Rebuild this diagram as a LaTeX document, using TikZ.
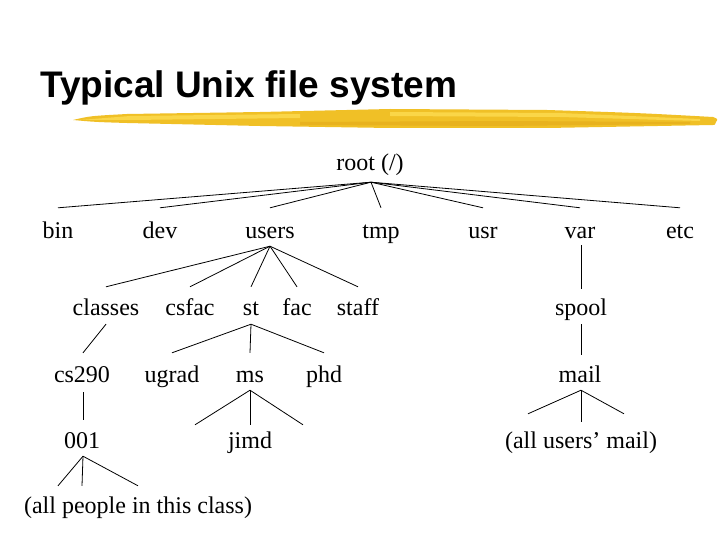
\documentclass[tikz,border=0pt]{standalone}
\usepackage{fontspec}
\setmainfont{Liberation Serif}
\newfontfamily\titlefont{Liberation Sans}
\usetikzlibrary{calc}
\definecolor{brushA}{RGB}{240,192,38}
\definecolor{brushB}{RGB}{250,214,72}
\definecolor{brushC}{RGB}{232,178,30}
\begin{document}
\begin{tikzpicture}[x=1pt,y=-1pt,
  tn/.style={anchor=base,inner sep=0pt,text height=27pt,text depth=9pt,font=\fontsize{24}{28}\selectfont},
  lk/.style={draw=black,line width=0.8pt}]
\useasboundingbox (0,0) rectangle (720,540);
\fill[white] (0,0) rectangle (720,540);
% title
\node[anchor=base west,inner sep=0pt,font=\titlefont\bfseries\fontsize{37}{40}\selectfont] (title) at (40,98) {Typical Unix file system};
% brush stroke
\fill[brushA] (73,120) .. controls (90,116) .. (127,114) -- (260,112) -- (390,109) -- (547,110) .. controls (640,113) .. (713,117) .. controls (718,119) .. (716,122) .. controls (715,125) .. (713,125) -- (547,128) -- (390,128) -- (260,126) -- (127,123) .. controls (95,122) .. (73,120) -- cycle;
\fill[brushB] (80,120) -- (130,116) -- (300,114) -- (300,118) -- (130,120) -- cycle;
\fill[brushB] (390,112) -- (560,113) -- (700,119) -- (700,121) -- (560,117) -- (390,116) -- cycle;
\fill[brushC] (300,122) -- (500,121) -- (690,122) -- (690,124) -- (500,126) -- (300,125) -- cycle;
% nodes
\node[tn,text depth=11pt] (root) at (370,171) {root (/)};
\node[tn,text height=30pt] (bin) at (58,238) {bin};
\node[tn,text height=30pt] (dev) at (160,238) {dev};
\node[tn,text height=30pt,text depth=8pt] (users) at (270,238) {users};
\node[tn,text height=30pt] (tmp) at (381,238) {tmp};
\node[tn,text height=30pt] (usr) at (483,238) {usr};
\node[tn,text height=30pt,text depth=7pt] (var) at (580,238) {var};
\node[tn,text height=30pt] (etc) at (680,238) {etc};
\node[tn,text height=28pt] (classes) at (106,315) {classes};
\node[tn,text height=28pt] (csfac) at (190,315) {csfac};
\node[tn,text height=28pt] (st) at (251,315) {st};
\node[tn,text height=28pt] (fac) at (297,315) {fac};
\node[tn,text height=28pt] (staff) at (358,315) {staff};
\node[tn,text height=26pt] (spool) at (581,315) {spool};
\node[tn,text height=29pt,text depth=10pt] (cs290) at (82,382) {cs290};
\node[tn,text height=29pt] (ugrad) at (172,382) {ugrad};
\node[tn,text height=29pt,text depth=8pt] (ms) at (250,382) {ms};
\node[tn,text height=29pt] (phd) at (324,382) {phd};
\node[tn,text height=27pt,text depth=8pt] (mail) at (580,382) {mail};
\node[tn,text height=28pt,text depth=8pt] (n001) at (82,448) {001};
\node[tn,text height=23pt] (jimd) at (250,448) {jimd};
\node[tn,text height=26pt] (allmail) at (581,448) {(all users’ mail)};
\node[tn] (people) at (138,513) {(all people in this class)};
% connectors
\coordinate (rootj) at ($(root.south)+(1,0)$);
\foreach \c in {bin,dev,users,tmp,usr,var,etc} \draw[lk] (rootj) -- (\c.north);
\foreach \c in {classes,csfac,st,fac,staff} \draw[lk] (users.south) -- (\c.north);
\draw[lk] (classes.south) -- ($(cs290.north)+(1,0)$);
\foreach \c in {ugrad,ms,phd} \draw[lk] (st.south) -- (\c.north);
\draw[lk] ($(cs290.south)+(1,0)$) -- ($(n001.north)+(1,0)$);
\draw[lk] (ms.south) -- ($(jimd.north)+(-55,0)$);
\draw[lk] (ms.south) -- (jimd.north);
\draw[lk] (ms.south) -- ($(jimd.north)+(53,0)$);
\draw[lk] ($(n001.south)+(1,0)$) -- ($(people.north)+(-80,0)$);
\draw[lk] ($(n001.south)+(1,0)$) -- ($(people.north)+(-56,0)$);
\draw[lk] ($(n001.south)+(1,0)$) -- (people.north);
\draw[lk] ($(var.south)+(1,0)$) -- (spool.north);
\draw[lk] (spool.south) -- ($(mail.north)+(1,0)$);
\draw[lk] ($(mail.south)+(1,0)$) -- ($(allmail.north)+(-53,-8)$);
\draw[lk] ($(mail.south)+(1,0)$) -- (allmail.north);
\draw[lk] ($(mail.south)+(1,0)$) -- ($(allmail.north)+(43,-8)$);
\end{tikzpicture}
\end{document}
